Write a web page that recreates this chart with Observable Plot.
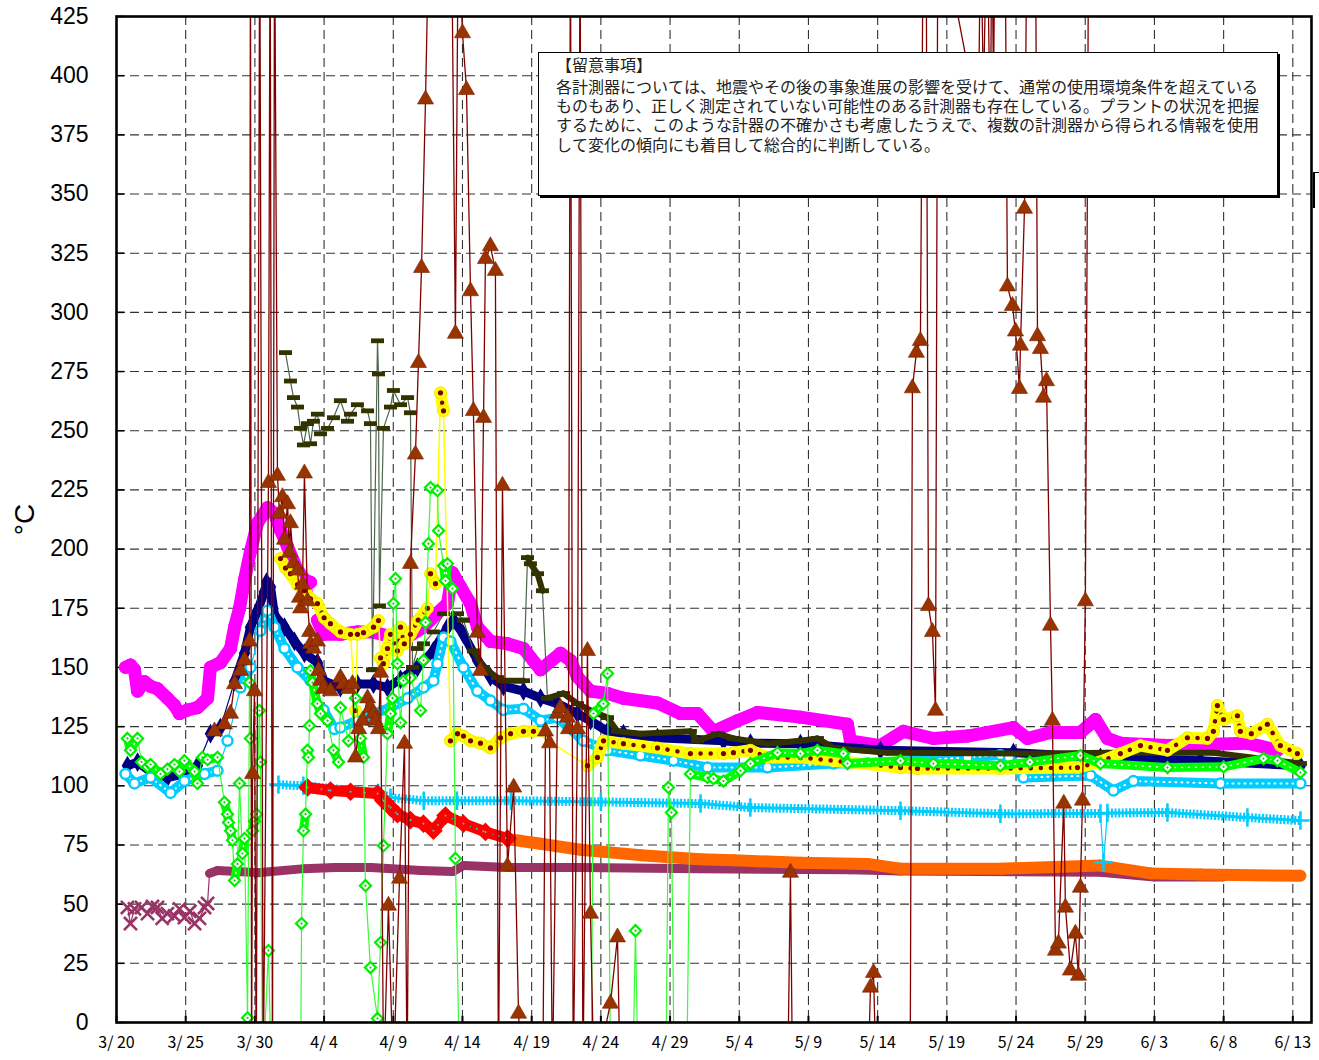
<!DOCTYPE html>
<html><head><meta charset="utf-8">
<script src="https://cdn.jsdelivr.net/npm/d3@7"></script>
<script src="https://cdn.jsdelivr.net/npm/@observablehq/plot@0.6"></script>
<style>
@font-face{font-family:"NoteJP";src:local("Noto Sans CJK JP"),local("Noto Sans CJK JP Regular"),local("NotoSansCJKjp-Regular");ascent-override:86%;descent-override:14%;line-gap-override:0%;}
body{margin:0;background:#fff;}
#wrap{position:relative;width:1319px;height:1060px;overflow:hidden;}
#note{position:absolute;left:538px;top:52px;width:740px;height:144px;box-sizing:border-box;border:1.5px solid #000;box-shadow:2px 2px 0 #000;background:#fff;font-family:"NoteJP","Noto Sans CJK JP";font-size:16px;color:#222;white-space:nowrap;}
#note div{position:absolute;left:17px;line-height:17px;}
#brk{position:absolute;left:1313px;top:172px;width:6px;height:36px;border-left:2px solid #000;border-top:1px solid #000;box-sizing:border-box;}
</style></head><body><div id="wrap"></div>
<script>
// ---- data: [days since 2011-03-20 00:00, °C] ----
const DAY0 = Date.UTC(2011, 2, 20);
const xTickDays = [0,5,10,15,20,25,30,35,40,45,50,55,60,65,70,75,80,85];
const yTicks = [0,25,50,75,100,125,150,175,200,225,250,275,300,325,350,375,400,425];
const xEndDay = 86.35;

const pink = [[0.65,150],[1.01,151],[1.3,149],[1.52,140],[2.02,144],[2.46,142],[2.96,141],[3.68,137],[4.19,134],[4.55,130.5],[5.13,132],[5.85,133],[6.58,137],[6.79,150],[7.51,152],[8.24,158],[8.53,167],[8.89,175],[9.25,187],[9.68,199],[10.19,211],[10.91,217.5],[11.42,215],[11.85,208],[12.36,201],[13.0,192],[13.58,187],[14.02,186],[14.52,170],[14.96,164],[16.18,164],[17.41,165],[18.57,165],[19.8,163],[20.52,161],[22.18,167],[23.19,173],[23.92,177],[24.28,190],[24.86,184],[25.58,177],[26.08,167],[27.02,161],[28.25,160],[29.41,158],[30.64,149],[32.08,156],[32.8,153],[33.31,146],[34.25,140],[35.48,139],[36.63,137],[39.09,135],[40.75,130.5],[41.98,130.5],[43.14,123],[44.87,127.5],[46.32,131],[49.42,129],[52.82,126],[53.03,119],[55.2,117],[56.86,123],[59.03,120],[61.49,121],[64.81,124.6],[65.82,120],[67.49,122.5],[69.65,122.5],[70.74,128],[71.6,120],[72.54,118],[75.94,117],[81.72,118],[83.89,115]];

const navy = [[0.79,108.5],[1.52,110],[2.46,106],[3.68,103.5],[4.91,105],[5.85,108.5],[6.79,122],[7.51,124.6],[8.53,144],[9.25,156],[9.68,167],[10.19,174],[10.69,182],[10.84,186],[11.13,184],[11.42,172],[12.14,167],[12.86,161],[13.58,156],[14.52,152],[14.96,144.4],[16.18,141.5],[17.41,143],[18.57,143],[19.58,141.5],[20.52,145],[21.75,150],[22.9,157],[23.92,167],[24.35,170],[25.07,164],[26.08,153],[27.02,146],[27.96,142],[29.41,140],[30.64,137],[31.86,134.7],[33.31,130.5],[34.25,127.5],[35.48,123],[36.63,122],[39.09,120.3],[43.86,119],[45.81,118],[49.42,117.8],[55.2,115],[64.81,114],[71.1,112],[78.32,110.6],[85.55,108.5]];

const skyRing = [[0.65,105],[1.3,101],[2.46,103.5],[3.9,97],[4.91,102],[6.36,105],[7.3,106.4],[8.02,119],[8.96,141.5],[9.68,150],[10.4,165.5],[10.91,174],[11.42,167],[12.14,158],[13.08,150],[14.02,144.4],[14.96,132],[15.75,124],[16.18,124.6],[17.41,127.5],[18.57,130.5],[19.8,133],[21.03,137],[22.18,141.5],[22.9,144.4],[23.19,151.6],[23.63,162.6],[24.13,161],[25.07,150],[26.08,140],[27.02,136],[27.96,132],[29.41,132.6],[30.64,127.5],[31.86,128.8],[33.74,119],[35.48,115],[37.86,112.8],[40.25,110.6],[42.7,107.7],[47.04,107.7],[51.81,109.4],[54.26,109.4],[61.49,112],[63.87,113],[64.5,112],[65.53,103.5],[70.38,104.3],[72.04,98],[73.48,102],[79.77,101],[85.55,101]];

const oliveEarly = [[12.21,283],[12.57,271],[12.79,264],[13.08,260],[13.29,251],[13.51,244],[13.8,253],[14.02,244.5],[14.23,254],[14.52,257],[14.74,248.7],[15.25,251],[15.68,255.5],[16.18,262.7],[16.69,254],[16.91,257],[17.41,261],[18.14,258.4],[18.35,253],[18.5,149],[18.86,288],[18.93,274],[19.0,176],[19.29,251],[19.8,260],[20.01,267],[20.52,261],[21.03,264],[21.24,257.6],[21.39,150],[21.75,158],[22.18,160],[22.9,165],[23.63,172.7],[24.64,172.7],[25.07,170]];
const oliveLate = [[25.07,170],[25.79,157],[26.52,150],[27.53,145.7],[27.96,144.4],[29.41,144.4],[29.7,196.4],[29.91,193.8],[30.42,189.6],[30.78,182.4],[31.14,137],[32.3,139],[33.31,134.7],[34.25,131.8],[35.48,128.8],[36.2,123],[37.86,122],[41.47,123],[41.98,119],[43.43,122],[44.58,120],[47.04,117.8],[49.42,119],[50.65,120],[51.81,116],[55.71,114],[67.27,113.6],[71.6,114],[79.26,114],[85.55,109.4]];

const yellow = [[11.85,196],[12.21,192],[12.57,189.6],[13.08,185],[13.58,182.4],[14.02,179],[14.52,177],[15.0,171],[15.46,168.5],[16.18,165],[16.91,164],[17.27,131.8],[17.41,164],[17.85,164.7],[18.57,167],[18.93,169.8],[19.08,154],[19.29,151.6],[19.58,158],[19.8,164],[20.3,157],[20.52,167],[20.8,160],[21.24,164],[21.8,170],[22.47,175],[22.69,189.6],[23.05,185.4],[23.41,266],[23.63,258.4],[24.13,119],[24.64,122],[25.07,121],[25.58,119],[26.3,118],[27.02,116],[27.75,120.3],[28.47,122],[29.41,123],[30.13,123],[34.03,108.5],[34.75,112],[35.19,119],[36.63,117.8],[39.09,116],[41.47,113.6],[43.86,113.6],[44.58,114],[45.81,115],[47.04,112],[49.42,112],[56.65,107.7],[57.88,107.3],[63.87,107.3],[69.44,107.7],[71.0,110],[72.54,113.6],[73.99,117],[75.94,115],[77.38,120.3],[78.83,120],[79.26,123],[79.55,133.9],[79.99,128],[81.0,129.6],[81.21,123],[82.0,122],[83.16,126],[84.1,117],[85.33,113.6]];

const green = [[0.79,120],[1.01,115],[1.52,120],[1.81,110],[2.24,108],[2.46,109],[3.18,105],[3.68,107],[4.19,109],[4.55,106],[4.91,110.6],[5.64,106],[5.85,101],[6.21,112],[6.58,111],[7.3,112],[7.8,93],[8.02,88],[8.09,84.5],[8.24,81],[8.38,77],[8.53,60],[8.74,67],[8.89,101],[9.1,71.4],[9.25,77.7],[9.47,2],[9.61,143.6],[9.68,120],[9.83,81],[9.97,85],[10.12,88],[10.33,131.8],[10.4,110],[10.55,-25],[10.98,30.4],[11.2,-25],[13.3,-25],[13.37,41.8],[13.51,81],[13.66,88],[13.8,115],[13.87,112],[13.95,125.4],[14.02,148.6],[14.16,143.6],[14.52,134.7],[14.74,130.5],[15.25,127.5],[15.68,115],[16.04,110],[16.18,133],[16.76,119],[17.27,137],[17.63,120],[17.85,112],[17.99,57.8],[18.35,23.2],[18.86,1.7],[19.08,33.8],[19.29,74.7],[19.58,122],[19.8,130.5],[19.94,137],[20.01,177],[20.16,187.5],[20.3,151.6],[20.52,126.7],[20.74,144.4],[21.24,145.7],[21.97,131.8],[22.18,153],[22.33,169],[22.54,202.3],[22.69,226],[23.19,224.7],[23.27,207.8],[23.63,193],[23.77,186.6],[23.92,193.8],[24.28,183.3],[24.49,69.3],[24.8,-25],[34.3,-25],[34.47,130.5],[35.19,134.7],[35.48,147.4],[35.7,-25],[37.3,-25],[37.5,38.8],[37.7,-25],[39.7,-25],[39.88,99.3],[40.1,88.7],[40.3,-25],[41.2,-25],[41.47,105],[42.7,103.5],[43.14,103],[43.86,102],[45.09,106.4],[45.81,109.4],[47.76,114],[49.42,113.6],[50.65,115],[52.53,113.6],[52.82,109.4],[56.65,110.6],[59.03,109.4],[63.87,108.5],[66.0,110],[69.65,112.8],[71.1,109.4],[75.94,107.7],[80.0,108],[82.88,111.5],[83.89,110.6],[85.55,105.6]];

const brown = [[7.08,123],[7.8,126],[8.24,130.5],[8.53,143],[8.96,148.6],[9.25,153],[9.61,161],[9.68,470],[9.76,-25],[9.83,105],[9.97,140],[10.1,-25],[10.35,470],[10.6,-25],[10.98,228],[11.1,470],[11.27,-25],[11.42,470],[11.63,231],[11.78,215],[11.99,222],[12.14,204],[12.36,219],[12.5,198.5],[12.57,211],[12.79,194],[13.08,191],[13.22,179.5],[13.3,175],[13.44,185],[13.58,232],[13.8,178],[13.95,165],[14.02,160],[14.23,158],[14.52,161],[14.6,148.6],[14.74,144.4],[14.96,141],[15.46,140],[16.18,145.7],[16.4,143],[16.76,141],[17.05,143],[17.27,112],[17.5,124],[17.78,127.5],[18.14,137],[18.35,133],[18.57,130.5],[18.7,127.5],[18.93,124],[19.08,147.8],[19.3,-25],[19.65,49.4],[20.0,-25],[20.45,60.8],[20.81,117.8],[21.0,-25],[21.24,193.8],[21.6,240],[21.82,278.7],[22.04,318.8],[22.33,390],[22.6,470],[24.2,470],[24.49,291],[24.7,470],[25.0,418],[25.29,394],[25.58,309],[25.79,258.4],[26.08,164.7],[26.3,148.6],[26.52,255.5],[26.66,322.6],[27.02,328],[27.38,317.6],[27.6,-25],[27.89,226.8],[28.25,66],[28.7,99.3],[29.05,3.8],[29.3,-25],[30.8,-25],[31.0,123],[31.29,118],[31.5,-25],[31.86,130.5],[32.08,133],[32.59,128.8],[32.66,124],[32.8,470],[33.0,-25],[33.31,124],[33.5,470],[33.7,-25],[34.03,157],[34.25,46],[34.5,-25],[35.69,8],[36.2,36],[36.4,-25],[48.5,-25],[48.7,63.3],[48.85,-25],[54.3,-25],[54.48,14.8],[54.7,21],[54.9,-25],[57.35,-25],[57.51,268],[57.8,283],[58.09,288],[58.3,470],[58.5,470],[58.67,176],[58.96,165],[59.18,131.8],[59.35,470],[62.28,380],[62.45,470],[62.64,390],[62.9,470],[63.15,370],[63.25,470],[63.37,395],[63.5,470],[64.2,470],[64.38,311],[64.74,302.8],[64.96,292],[65.25,267.7],[65.32,286],[65.61,343.8],[65.8,470],[66.4,470],[66.55,290],[66.76,284.6],[66.98,264],[67.2,271],[67.49,167.7],[67.63,127.5],[67.85,30.4],[68.06,33.4],[68.45,92.5],[68.57,48.6],[68.93,22],[69.29,37.6],[69.51,19.8],[69.65,57],[69.8,93.8],[70.01,178],[70.25,470]];

const red = [[13.8,99.3],[15.46,98],[16.91,97.5],[18.86,96.7],[19.29,93.7],[19.8,90.8],[20.3,88],[21.24,85.5],[22.18,84],[22.9,81],[23.77,87.4],[25.07,84],[26.66,80.5],[28.25,77.7]];
const orange = [[28.25,77.5],[30.64,75.5],[33.53,73],[37.86,70.7],[42.2,69],[44.58,68.5],[49.42,67.5],[54.26,67],[56.65,65],[63.87,65],[71.1,66.3],[74.71,63],[78.32,62.5],[85.55,62]];

const purpleEarly = [[0.79,48.6],[1.01,41.8],[1.3,48],[1.81,48.6],[2.24,46],[2.6,49],[2.96,48.6],[3.3,44],[3.68,46],[4.19,45],[4.55,48],[4.91,44.3],[5.3,47],[5.64,41.8],[6.0,44],[6.36,48.6],[6.58,50.3]];
const purpleLate = [[6.72,63],[7.3,64.2],[10.19,63.3],[13.58,65],[15.8,65.5],[18.4,65.5],[22.0,64.2],[24.3,63.8],[25.07,66.3],[28.25,65.5],[33.53,65.5],[42.2,65],[53.0,64.5],[56.65,64],[71.1,63.5],[75.0,61.5],[80.0,61.5]];

const skyPlus = [[11.7,100.5],[13.5,100],[18.9,97],[19.8,95],[22.2,93.7],[24.6,93.7],[28.5,93.7],[35.0,93.2],[42.2,92.5],[45.8,90.8],[56.65,89.5],[63.87,88.2],[71.1,88.3],[71.32,67.6],[71.6,88.5],[75.94,88.7],[81.72,86.6],[85.55,85.3]];

const noteTitle = "【留意事項】";
const noteLines = [
  "各計測器については、地震やその後の事象進展の影響を受けて、通常の使用環境条件を超えている",
  "ものもあり、正しく測定されていない可能性のある計測器も存在している。プラントの状況を把握",
  "するために、このような計器の不確かさも考慮したうえで、複数の計測器から得られる情報を使用",
  "して変化の傾向にも着目して総合的に判断している。"
];

// ---- helpers ----
const toDate = d => new Date(DAY0 + d * 864e5);
const pts = a => a.map(([d, v]) => ({t: toDate(d), v}));
const bandPairs = (a, lim) => d3.pairs(pts(a)).filter(([p, q]) => Math.abs(p.v - q.v) <= lim)
  .map(([p, q]) => ({t1: p.t, v1: p.v, t2: q.t, v2: q.v}));
const thin = (a, stroke, w = 1) => Plot.line(pts(a), {x: "t", y: "v", stroke, strokeWidth: w, clip: true});
const band = (a, lim, stroke, w, extra = {}) => Plot.link(bandPairs(a, lim),
  {x1: "t1", y1: "v1", x2: "t2", y2: "v2", stroke, strokeWidth: w, strokeLinecap: "round", clip: true, ...extra});
const dots = (a, opts) => Plot.dot(pts(a), {x: "t", y: "v", clip: true, ...opts});
const barSymbol = {draw(ctx) { ctx.rect(-6.5, -2.4, 13, 4.8); }};
const fmt = d => `${d.getUTCMonth() + 1}/ ${d.getUTCDate()}`;

const grid = {stroke: "#333", strokeWidth: 1.1, strokeDasharray: "9,5"};

const marks = [
  Plot.ruleY(yTicks.filter(v => v > 0 && v < 425), grid),
  Plot.ruleX(xTickDays.filter(d => d > 0).map(toDate), grid),
  Plot.ruleY(yTicks, {x1: toDate(0), x2: toDate(0.6), stroke: "#000", strokeWidth: 1.5}),
  Plot.ruleX(xTickDays.map(toDate), {y1: 0, y2: 2.6, stroke: "#000", strokeWidth: 2}),

  // purple
  thin(purpleEarly.concat(purpleLate), "#993366", 1.2),
  dots(purpleEarly, {symbol: "times", r: 6, stroke: "#993366", strokeWidth: 2.6}),
  band(purpleLate, 8, "#993366", 9),
  // orange
  band(orange, 8, "#FF6600", 12),
  // sky plus
  thin(skyPlus, "#00CCFF", 1.2),
  band(skyPlus, 8, "#00CCFF", 9, {strokeLinecap: "butt", strokeDasharray: "2,1.6"}),
  band(skyPlus, 8, "#00CCFF", 3),
  dots(skyPlus, {symbol: "plus", r: 6, stroke: "#00CCFF", strokeWidth: 2.5}),
  // red
  band(red, 12, "#FF0000", 11),
  band(red, 12, "#33CCCC", 2, {strokeDasharray: "0.1,7"}),
  dots(red, {symbol: "diamond2", r: 6.5, stroke: "#FF0000", strokeWidth: 3}),
  // pink
  thin(pink, "#FF00FF", 1.2),
  band(pink, 13, "#FF00FF", 13),
  dots(pink, {r: 6.5, fill: "#FF00FF"}),
  // navy
  thin(navy, "#000080", 1.2),
  band(navy, 12, "#000080", 9),
  dots(navy, {symbol: "diamond", r: 6, fill: "#000080"}),
  // sky rings
  thin(skyRing, "#00CCFF", 1.2),
  band(skyRing, 12, "#00CCFF", 10),
  band(skyRing, 12, "#ffffff", 2, {strokeDasharray: "1,5"}),
  dots(skyRing, {r: 5, stroke: "#00CCFF", strokeWidth: 2.5, fill: "#fff"}),
  // olive
  thin(oliveEarly.concat(oliveLate), "#4d664d", 1.2),
  band(oliveLate, 10, "#333300", 6),
  dots(oliveEarly, {symbol: barSymbol, fill: "#333300"}),
  dots(oliveLate, {symbol: barSymbol, fill: "#333300"}),
  // yellow
  thin(yellow, "#FFFF00", 1.5),
  band(yellow, 12, "#FFFF00", 12),
  band(yellow, 12, "#800000", 4.5, {strokeDasharray: "0.1,10"}),
  dots(yellow, {r: 6, fill: "#FFFF00", stroke: "#F0E000", strokeWidth: 0.8}),
  dots(yellow, {r: 2.6, fill: "#800000"}),
  // green
  thin(green, "#33FF33", 1.2),
  band(green, 9, "#00FF00", 9),
  band(green, 9, "#ffffff", 1.5, {strokeDasharray: "1,6"}),
  dots(green, {symbol: "diamond2", r: 5, stroke: "#00EE00", strokeWidth: 2.2, fill: "#fff"}),
  dots(green, {r: 1.1, fill: "#00CC00"}),
  // brown
  thin(brown, "#800000", 1.3),
  dots(brown, {symbol: "triangle", r: 6, fill: "#993300", stroke: "#7a2200", strokeWidth: 0.6}),

  Plot.frame({stroke: "#000", strokeWidth: 2.6}),
  Plot.axisY({ticks: yTicks, tickSize: 0, tickPadding: 28, fontSize: 23, fontFamily: "Liberation Sans", label: null}),
  Plot.axisX({ticks: xTickDays.map(toDate), tickFormat: fmt, tickSize: 0, tickPadding: 14, fontSize: 16, fontFamily: "Noto Sans CJK JP", label: null}),
  Plot.text(["°C"], {frameAnchor: "left", dx: -91, rotate: -90, fontSize: 28, fontFamily: "Liberation Sans", textAnchor: "middle", fill: "#000"})
];

const chart = Plot.plot({
  width: 1319, height: 1060,
  marginLeft: 116, marginRight: 8, marginTop: 16, marginBottom: 38,
  style: {background: "#fff", color: "#000"},
  x: {type: "utc", domain: [toDate(0), toDate(xEndDay)]},
  y: {domain: [0, 425]},
  marks
});
const wrap = document.getElementById("wrap");
wrap.appendChild(chart);
const note = document.createElement("div");
note.id = "note";
const lineTops = [4, 26, 45.2, 64.4, 83.6];
[noteTitle, ...noteLines].forEach((s, i) => {
  const el = document.createElement("div");
  el.textContent = s;
  el.style.top = lineTops[i] + "px";
  note.appendChild(el);
});
wrap.appendChild(note);
const brk = document.createElement("div");
brk.id = "brk";
wrap.appendChild(brk);
</script></body></html>
